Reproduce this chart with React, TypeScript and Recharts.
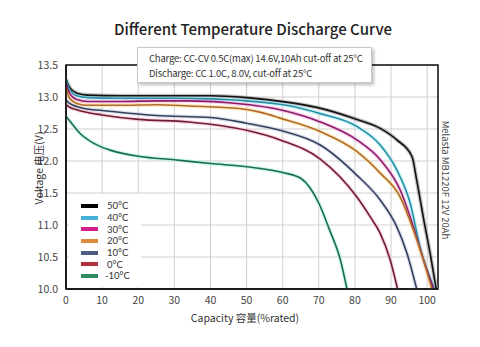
import React from 'react';
import { LineChart, Line, XAxis, YAxis, CartesianGrid, ReferenceArea } from 'recharts';

// capacity (% rated) and voltage readings per temperature
const cap50 = [0, 1, 3, 6, 15, 30, 40, 50, 61, 70, 80, 87, 91.6, 95.8, 97.1, 99, 101, 102.5];
const volt50 = [13.28, 13.15, 13.06, 13.03, 13.02, 13.02, 13.02, 12.99, 12.92, 12.83, 12.66, 12.51, 12.33, 12.07, 11.7, 11.1, 10.5, 10.0];

const cap40 = [0, 1, 3, 6, 15, 30, 40, 50, 61, 70.4, 80.5, 87, 91.6, 95.3, 98, 102];
const volt40 = [13.27, 13.12, 13.02, 12.99, 12.98, 12.98, 12.97, 12.94, 12.87, 12.74, 12.54, 12.25, 11.86, 11.34, 10.66, 10.0];

const cap30 = [0, 1, 3, 6, 15, 25, 34, 45, 59.3, 70.4, 80.5, 87, 92.5, 96.2, 99, 101.8];
const volt30 = [13.22, 13.06, 12.96, 12.93, 12.93, 12.94, 12.94, 12.91, 12.8, 12.61, 12.33, 12.02, 11.55, 10.97, 10.45, 10.0];

const cap20 = [0, 1, 3, 6, 15, 25, 34, 48, 54, 59.3, 70.4, 80.5, 87, 92.5, 96.2, 99, 101.3];
const volt20 = [13.15, 12.98, 12.9, 12.87, 12.87, 12.88, 12.86, 12.82, 12.76, 12.67, 12.46, 12.15, 11.81, 11.44, 10.92, 10.45, 10.0];

const cap10 = [0, 1, 3, 5, 10, 25, 40, 50, 59.3, 70.4, 80.5, 87, 91.6, 94.4, 97.1];
const volt10 = [12.95, 12.9, 12.85, 12.82, 12.79, 12.71, 12.68, 12.59, 12.48, 12.25, 11.78, 11.39, 10.97, 10.56, 10.0];

const cap0 = [0, 1, 3, 5, 10, 20, 34, 50, 59.3, 70.4, 80.5, 84.2, 87, 89.8, 91.8];
const volt0 = [12.88, 12.84, 12.8, 12.77, 12.72, 12.65, 12.61, 12.48, 12.33, 12.03, 11.44, 11.13, 10.87, 10.45, 10.0];

const capM10 = [0, 1.1, 3.9, 7.6, 12.2, 20.5, 30, 40, 50, 60, 65, 70, 73, 76, 77.8];
const voltM10 = [12.7, 12.62, 12.43, 12.28, 12.17, 12.07, 12.02, 11.96, 11.91, 11.82, 11.73, 11.34, 10.92, 10.45, 10.0];

const xTicks = [0, 10, 20, 30, 40, 50, 60, 70, 80, 90, 100];
const yTicks = [10, 10.5, 11, 11.5, 12, 12.5, 13, 13.5];

const toPoints = (cap: number[], volt: number[]) => cap.map((c, i) => ({ cap: c, v: volt[i] }));

const series = [
  { name: '50°C', data: toPoints(cap50, volt50), line: '#111111', glow: '#9a9a9a', swatch: '#000000' },
  { name: '40°C', data: toPoints(cap40, volt40), line: '#2a8ea5', glow: '#a8eef6', swatch: '#45b0d8' },
  { name: '30°C', data: toPoints(cap30, volt30), line: '#8a1c6c', glow: '#f6b2de', swatch: '#d0208a' },
  { name: '20°C', data: toPoints(cap20, volt20), line: '#b06a2c', glow: '#fbe09c', swatch: '#e0893a' },
  { name: '10°C', data: toPoints(cap10, volt10), line: '#36405a', glow: '#c9d2e6', swatch: '#4e5b7c' },
  { name: '0°C', data: toPoints(cap0, volt0), line: '#6e1d38', glow: '#f8bfca', swatch: '#b3303f' },
  { name: '-10°C', data: toPoints(capM10, voltM10), line: '#1d6a52', glow: '#aef3e2', swatch: '#2e8b5f' },
];

const font = '"Noto Sans CJK SC", "Noto Sans", sans-serif';

const App: React.FC = () => {
  return (
    <div style={{ position: 'absolute', left: 0, top: 0, width: 480, height: 347, background: '#fff', fontFamily: font }}>
      <div style={{ position: 'absolute', top: 18, left: 0, width: 506, textAlign: 'center', fontSize: 15, fontWeight: 500, color: '#222' }}>
        Different Temperature Discharge Curve
      </div>
      <LineChart width={480} height={347} data={[]} margin={{ top: 65, right: 42, bottom: 38, left: 36 }}>
        <CartesianGrid stroke="#cfcfcf" strokeWidth={1} />
        <XAxis
          type="number"
          dataKey="cap"
          domain={[0, 103]}
          ticks={xTicks}
          allowDataOverflow
          axisLine={{ stroke: '#111', strokeWidth: 1.5 }}
          tickLine={false}
          tick={{ fontSize: 10.5, fill: '#444', fontFamily: font }}
          height={20}
        />
        <YAxis
          type="number"
          dataKey="v"
          domain={[10, 13.5]}
          ticks={yTicks}
          allowDataOverflow
          axisLine={{ stroke: '#111', strokeWidth: 1.5 }}
          tickLine={false}
          tick={{ fontSize: 10.5, fill: '#444', fontFamily: font }}
          tickFormatter={(v: number) => v.toFixed(1)}
          width={30}
        />
        <ReferenceArea x1={0} x2={103} y1={10} y2={13.5} fill="none" stroke="#111" strokeWidth={1.5} ifOverflow="visible" />
        {series.map((s) => (
          <Line
            key={`glow-${s.name}`}
            data={s.data}
            dataKey="v"
            type="monotone"
            stroke={s.glow}
            strokeWidth={4}
            strokeOpacity={0.6}
            dot={false}
            legendType="none"
            isAnimationActive={false}
          />
        ))}
        {series.map((s) => (
          <Line
            key={s.name}
            data={s.data}
            dataKey="v"
            name={s.name}
            type="monotone"
            stroke={s.line}
            strokeWidth={1.6}
            dot={false}
            isAnimationActive={false}
          />
        ))}
      </LineChart>
      <div style={{ position: 'absolute', left: 69, top: 194, width: 72, height: 93, background: '#fff', paddingTop: 6, boxSizing: 'border-box' }}>
        {series.map((s) => (
          <div key={s.name} style={{ display: 'flex', alignItems: 'center', height: 11.7 }}>
            <span style={{ display: 'inline-block', width: 17, height: 4, background: s.swatch, marginLeft: 12, marginRight: s.name.startsWith('-') ? 7 : 9 }} />
            <span style={{ fontFamily: 'Lato, sans-serif', fontSize: 9.5, color: '#333', lineHeight: '11px' }}>{s.name}</span>
          </div>
        ))}
      </div>
      <div
        style={{
          position: 'absolute', left: 137, top: 47, width: 235, height: 36, boxSizing: 'border-box',
          background: '#fff', border: '1px solid #c8c8c8', boxShadow: '2px 2px 3px rgba(0,0,0,0.25)',
          padding: '3px 0 0 11px', fontSize: 9.5, letterSpacing: -0.2, lineHeight: '15px', color: '#333', whiteSpace: 'nowrap',
        }}
      >
        <div>Charge: CC-CV 0.5C(max) 14.6V,10Ah cut-off at 25°C</div>
        <div>Discharge: CC 1.0C, 8.0V, cut-off at 25°C</div>
      </div>
      <div
        style={{
          position: 'absolute', left: 38, top: 168, transform: 'translate(-50%, -50%) rotate(-90deg)',
          whiteSpace: 'nowrap', fontSize: 10.5, color: '#333',
        }}
      >
        Voltage 电压(V)
      </div>
      <div style={{ position: 'absolute', left: 0, width: 490, top: 310, textAlign: 'center', fontSize: 10.5, color: '#333' }}>
        Capacity 容量(%rated)
      </div>
      <div
        style={{
          position: 'absolute', left: 446, top: 180, transform: 'translate(-50%, -50%) rotate(90deg)',
          whiteSpace: 'nowrap', fontSize: 9.5, color: '#444',
        }}
      >
        Melasta MB1220F 12V 20Ah
      </div>
    </div>
  );
};

export default App;
